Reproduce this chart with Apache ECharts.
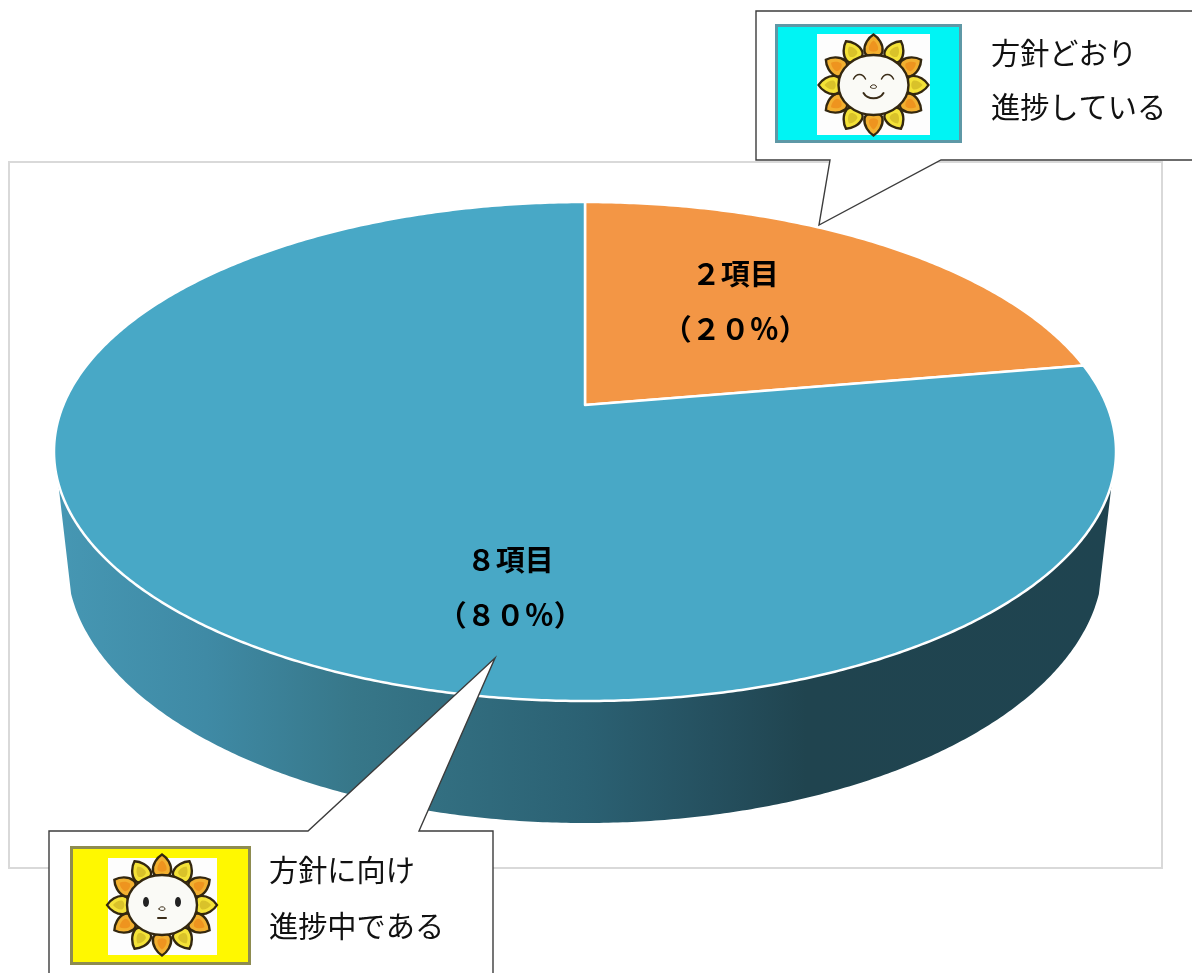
<!DOCTYPE html>
<html lang="ja">
<head>
<meta charset="utf-8">
<style>html,body{margin:0;padding:0;background:#fff}#chart{width:1192px;height:973px}</style>
<script src="https://cdn.jsdelivr.net/npm/echarts@6/dist/echarts.min.js"></script>
</head>
<body>
<div id="chart"></div>
<script>
// Progress summary: number of items per status
const categories = ['方針どおり進捗している', '方針に向け進捗中である'];
const itemCounts = [2, 8];
const sliceColors = ['#F39645', '#48A8C6'];
const labelAnchors = [[0.283, 0.60], [-0.141, -0.545]]; // unit-disc label centres

// Tilted disc geometry, in unit coordinates of the top face
const APEX_Y = 0.186;        // perspective shift of the disc centre
const RIM_K = 0.04;          // perspective shift applied along the rim
const FRONT_Y = -0.122;      // rim points below this show a side wall
const WALL_SX = 518 / 531;   // bottom rim width relative to the top
const WALL_SY = 262 / 249.5; // bottom rim height relative to the top
const WALL_DY = -109.5 / 249.5; // bottom rim centre drop

const toFullWidth = n => String(n).replace(/[0-9]/g, d => String.fromCharCode(d.charCodeAt(0) + 0xFEE0));
const total = itemCounts.reduce((a, b) => a + b, 0);

function rimPoint(fraction) {
  const t = 2 * Math.PI * fraction, x = Math.sin(t), y = Math.cos(t), d = 1 + RIM_K * y;
  return [Math.sqrt(1 - RIM_K * RIM_K) * x / d, (y + RIM_K) / d];
}

const wallFill = {
  type: 'linear', x: 0, y: 0, x2: 1, y2: 0,
  colorStops: [
    { offset: 0, color: '#4697B3' }, { offset: 0.14, color: '#3F8AA5' },
    { offset: 0.28, color: '#377789' }, { offset: 0.5, color: '#2B6173' },
    { offset: 0.62, color: '#25505F' }, { offset: 0.71, color: '#20444F' },
    { offset: 1, color: '#1F4450' }
  ]
};

function renderSlice(params, api) {
  const i = params.dataIndex, value = api.value(0);
  const start = itemCounts.slice(0, i).reduce((a, b) => a + b, 0) / total;
  const share = value / total;
  const steps = Math.ceil(share * 720);
  const rim = [];
  for (let s = 0; s <= steps; s++) rim.push(rimPoint(start + share * s / steps));

  const children = [];
  const front = rim.filter(p => p[1] < FRONT_Y);
  if (front.length > 1) {
    const upper = front.map(p => api.coord(p));
    const lower = front.slice().reverse().map(p => api.coord([p[0] * WALL_SX, p[1] * WALL_SY + WALL_DY]));
    children.push({ type: 'polygon', shape: { points: upper.concat(lower) }, style: { fill: wallFill } });
  }
  const face = [api.coord([0, APEX_Y])].concat(rim.map(p => api.coord(p)));
  children.push({
    type: 'polygon', shape: { points: face },
    style: { fill: sliceColors[i], stroke: '#fff', lineWidth: 2.5, lineJoin: 'round' }
  });
  const c = api.coord(labelAnchors[i]);
  children.push({
    type: 'text', x: c[0], y: c[1],
    style: {
      text: toFullWidth(value) + '項目\n（' + toFullWidth(Math.round(share * 100)) + '％）',
      fontFamily: '"Noto Sans CJK JP"', fontWeight: 'bold', fontSize: 29, lineHeight: 55,
      fill: '#000', align: 'center', verticalAlign: 'middle'
    }
  });
  return { type: 'group', children };
}

// Overlay helpers: call-out boxes and the sunflower badges
const callout = pts => ({
  type: 'polygon', shape: { points: pts },
  style: { fill: '#fff', stroke: '#3c3c3c', lineWidth: 1.4 }
});
const caption = (text, x, y) => ({
  type: 'text', x, y,
  style: { text, fontFamily: '"Noto Sans CJK JP"', fontSize: 29.2, fill: '#111', verticalAlign: 'middle' }
});
const rect = (x, y, width, height, fill, stroke) => ({
  type: 'rect', shape: { x, y, width, height },
  style: { fill, stroke: stroke || null, lineWidth: stroke ? 3 : 0 }
});
const stroked = (d, w) => ({
  type: 'path', shape: { pathData: d },
  style: { fill: null, stroke: '#3a2c18', lineWidth: w || 1.5, lineCap: 'round' }
});
const ovalPath = (cx, cy, rx, ry) =>
  `M${cx - rx},${cy} A${rx},${ry} 0 1 1 ${cx + rx},${cy} A${rx},${ry} 0 1 1 ${cx - rx},${cy} Z`;
const dot = (cx, cy, rx, ry) => ({
  type: 'path', shape: { pathData: ovalPath(cx, cy, rx, ry) }, style: { fill: '#222' }
});

function flower(cx, cy, faceParts) {
  const children = [];
  for (let n = 0; n < 12; n++) {
    const a = n * Math.PI / 6;
    const warm = n % 2 === 0;
    children.push({
      type: 'group', x: 42 * Math.sin(a), y: -37.5 * Math.cos(a), rotation: -a,
      children: [
        { type: 'path', shape: { pathData: 'M0,-13 C5,-10 10,-3 9,4 C8,11 -8,11 -9,4 C-10,-3 -5,-10 0,-13 Z' },
          style: { fill: warm ? '#F2B030' : '#F4E238', stroke: '#33270F', lineWidth: 2.4 } },
        { type: 'path', shape: { pathData: 'M0,-7 C3,-5 5,-1 4.5,2 C3,5 -3,5 -4.5,2 C-5,-1 -3,-5 0,-7 Z' },
          style: { fill: warm ? '#EE941F' : '#D9C22A' } }
      ]
    });
  }
  children.push({
    type: 'path', shape: { pathData: ovalPath(0, 0, 35, 30) },
    style: { fill: '#FAFAF6', stroke: '#33270F', lineWidth: 2.4 }
  });
  return { type: 'group', x: cx, y: cy, children: children.concat(faceParts) };
}

const smile = [
  stroked('M-20,-6 C-17,-12 -11,-12 -8,-6'), stroked('M8,-6 C11,-12 17,-12 20,-6'),
  stroked('M-3,2 C-3,-1 3,-1 3,2 C3,4 -3,4 -3,2 Z', 1), stroked('M-10,8 C-6,15 6,15 10,8', 2)
];
const plain = [
  dot(-16, -3, 3, 5), dot(16, -3, 3, 5),
  stroked('M-3,4 C-3,1 3,1 3,4 C3,6 -3,6 -3,4 Z', 1), stroked('M-4,13 L4,13', 2)
];

const overlay = [
  callout([[756, 11], [1196, 11], [1196, 160], [941, 160], [819, 225], [830, 160], [756, 160]]),
  rect(776.5, 25.5, 184, 116, '#00F4F4', '#5E98A6'),
  rect(817, 34, 113, 101, '#FDFDFD'),
  flower(873.5, 85, smile),
  caption('方針どおり', 991, 53),
  caption('進捗している', 991, 107),
  callout([[49, 831], [308, 831], [495, 658], [419, 831], [493, 831], [493, 978], [49, 978]]),
  rect(71.5, 847.5, 178, 116, '#FFF800', '#8E8C50'),
  rect(108, 858, 109, 97, '#FDFDFD'),
  flower(162, 905, plain),
  caption('方針に向け', 269, 870),
  caption('進捗中である', 269, 926)
];

const axisOff = gridIndex => ({ type: 'value', gridIndex, min: -1, max: 1, show: false });

const chart = echarts.init(document.getElementById('chart'), null, { renderer: 'canvas' });
chart.setOption({
  backgroundColor: '#fff',
  animation: false,
  grid: [
    { left: 9, top: 162, width: 1153, height: 706, show: true, backgroundColor: 'transparent', borderColor: '#D9D9D9', borderWidth: 2 },
    { left: 54, top: 202, width: 1062, height: 499 }
  ],
  xAxis: [axisOff(0), axisOff(1)],
  yAxis: [axisOff(0), axisOff(1)],
  series: [{
    type: 'custom',
    name: '進捗状況',
    coordinateSystem: 'cartesian2d',
    xAxisIndex: 1, yAxisIndex: 1,
    clip: false,
    renderItem: renderSlice,
    data: itemCounts.map((v, i) => ({ name: categories[i], value: [v, 0] })),
    encode: { x: 0, y: 1 }
  }, {
    type: 'custom',
    name: '吹き出し',
    coordinateSystem: 'none',
    z: 10,
    silent: true,
    renderItem: () => ({ type: 'group', children: overlay }),
    data: [0]
  }]
});
</script>
</body>
</html>
